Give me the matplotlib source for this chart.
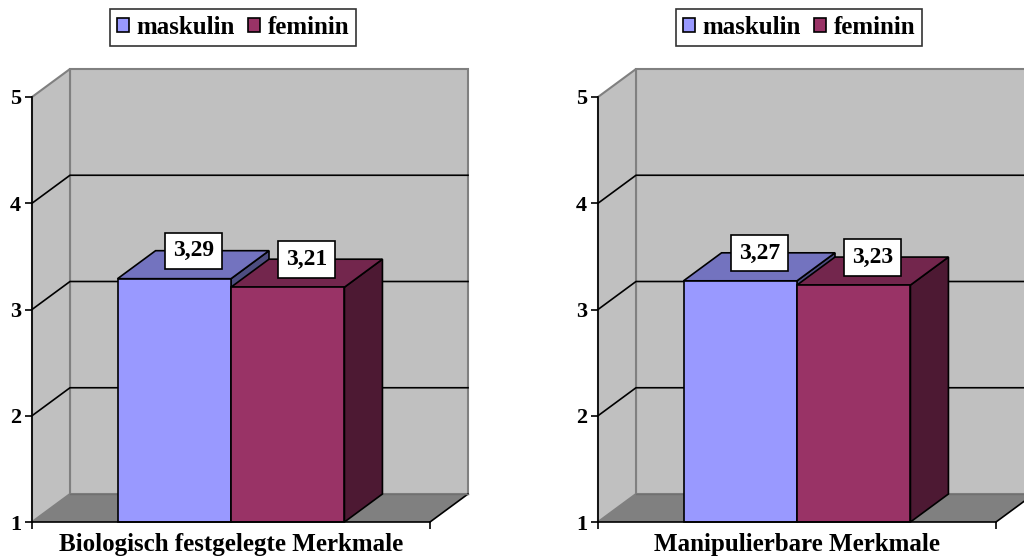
import matplotlib
matplotlib.use("Agg")
import matplotlib.pyplot as plt
from matplotlib.patches import Polygon, Rectangle, Patch

plt.rcParams['font.family'] = ['Liberation Serif', 'DejaVu Serif']
plt.rcParams['font.weight'] = 'bold'

series = ['maskulin', 'feminin']
panels = ['Biologisch festgelegte Merkmale', 'Manipulierbare Merkmale']
values = [[3.29, 3.21],   # Biologisch festgelegte Merkmale
          [3.27, 3.23]]   # Manipulierbare Merkmale
yticks = [1, 2, 3, 4, 5]

front = ['#9999FF', '#993366']
top = ['#7373BF', '#73264D']
side = ['#4D4D80', '#4D1933']
wall = '#C0C0C0'
floor = '#808080'
edge_grey = '#808080'

W, H, DPI = 1024, 556, 100
fig = plt.figure(figsize=(W / DPI, H / DPI), dpi=DPI)
fig.patch.set_facecolor('white')

# front plane of each panel in pixels
px_left, px_w, px_bottom, px_top = 32, 398, 522, 97
shift = 566
DX = 38 / px_w                     # depth offset in data units
DY = 28 / ((px_bottom - px_top) / 4)
BW = 0.285                         # bar width


def draw_panel(ax, vals, title):
    ax.set_xlim(0, 1)
    ax.set_ylim(1, 5)
    ax.patch.set_visible(False)
    for s in ['top', 'right']:
        ax.spines[s].set_visible(False)
    for s in ['left', 'bottom']:
        ax.spines[s].set_color('black')
        ax.spines[s].set_linewidth(1.2)
        ax.spines[s].set_zorder(6)
    ax.set_yticks(yticks)
    ax.set_yticklabels([str(t) for t in yticks], fontsize=16, fontweight='bold')
    ax.set_xticks([0, 1])
    ax.set_xticklabels(['', ''])
    ax.tick_params(direction='out', length=5, width=1.2, color='black', pad=3)

    kw = dict(clip_on=False)
    # walls and floor
    ax.add_patch(Rectangle((DX, 1 + DY), 1, 4, facecolor=wall,
                           edgecolor=edge_grey, lw=1.5, zorder=1, **kw))
    ax.add_patch(Polygon([(0, 1), (DX, 1 + DY), (DX, 5 + DY), (0, 5)],
                         facecolor=wall, edgecolor=edge_grey, lw=1.5, zorder=1, **kw))
    ax.add_patch(Polygon([(0, 1), (1, 1), (1 + DX, 1 + DY), (DX, 1 + DY)],
                         facecolor=floor, edgecolor='none', zorder=1.5, **kw))
    ax.plot([1, 1 + DX], [1, 1 + DY], color='black', lw=1.2, zorder=2, **kw)
    ax.plot([DX, 1 + DX], [1 + DY, 1 + DY], color='#707070', lw=1, zorder=2, **kw)

    # gridlines on side and back wall
    for v in yticks[1:-1]:
        ax.plot([0, DX, 1 + DX], [v, v + DY, v + DY], color='black',
                lw=1.2, zorder=2, **kw)

    # bars
    for i, v in enumerate(vals):
        x0 = 0.5 - BW + i * BW
        x1 = x0 + BW
        z = 3 + i
        ax.add_patch(Polygon([(x1, 1), (x1 + DX, 1 + DY), (x1 + DX, v + DY), (x1, v)],
                             facecolor=side[i], edgecolor='black', lw=1.2, zorder=z, **kw))
        ax.add_patch(Polygon([(x0, v), (x1, v), (x1 + DX, v + DY), (x0 + DX, v + DY)],
                             facecolor=top[i], edgecolor='black', lw=1.2, zorder=z, **kw))
        ax.add_patch(Rectangle((x0, 1), BW, v - 1, facecolor=front[i],
                               edgecolor='black', lw=1.2, zorder=z, **kw))
        ax.text((x0 + x1) / 2 + DX / 2, v + DY / 2 + 0.13,
                ('%.2f' % v).replace('.', ','), ha='center', va='center',
                fontsize=17, fontweight='bold', zorder=7,
                bbox=dict(boxstyle='square,pad=0.33', facecolor='white',
                          edgecolor='black', lw=1.2))

    ax.text(0.5, -0.053, title, transform=ax.transAxes, ha='center', va='center',
            fontsize=18, fontweight='bold')

    handles = [Patch(facecolor=front[i], edgecolor='black', lw=1.2, label=series[i])
               for i in range(len(series))]
    leg = ax.legend(handles=handles, loc='center', bbox_to_anchor=(0.505, 1.1635),
                    ncol=2, frameon=True, fancybox=False, fontsize=18,
                    handlelength=0.5, handleheight=0.5, handletextpad=0.3,
                    columnspacing=0.5, borderpad=0.28, borderaxespad=0)
    leg.get_frame().set_edgecolor('black')
    leg.get_frame().set_linewidth(1.2)


for k, (vals, title) in enumerate(zip(values, panels)):
    left = px_left + k * shift
    ax = fig.add_axes([left / W, (H - px_bottom) / H, px_w / W,
                       (px_bottom - px_top) / H])
    draw_panel(ax, vals, title)

fig.savefig('out.png', dpi=DPI)
